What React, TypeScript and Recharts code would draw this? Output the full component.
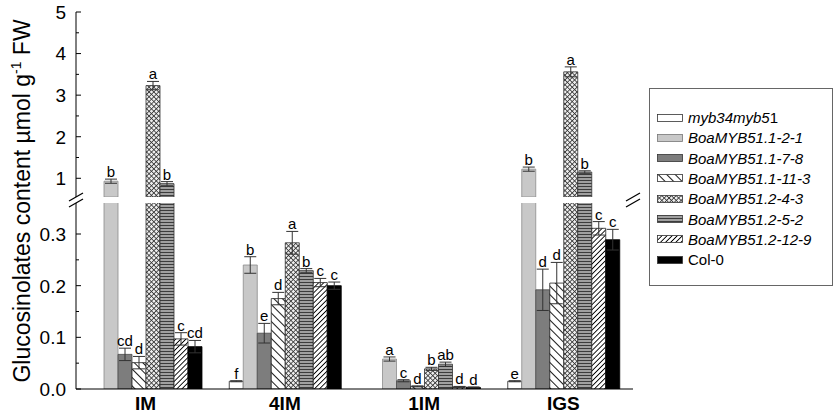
import React from "react";
import { BarChart, Bar, XAxis, YAxis, ErrorBar, LabelList } from "recharts";

const FONT = '"Liberation Sans", Arial, Helvetica, sans-serif';

const categories = ["IM", "4IM", "1IM", "IGS"];

const seriesNames = [
  "myb34myb51",
  "BoaMYB51.1-2-1",
  "BoaMYB51.1-7-8",
  "BoaMYB51.1-11-3",
  "BoaMYB51.2-4-3",
  "BoaMYB51.2-5-2",
  "BoaMYB51.2-12-9",
  "Col-0",
];

// values per category: IM, 4IM, 1IM, IGS
const mybValues = [0, 0.015, 0, 0.015];
const l121Values = [0.93, 0.24, 0.058, 1.22];
const l178Values = [0.067, 0.108, 0.016, 0.192];
const l1113Values = [0.051, 0.175, 0.005, 0.205];
const l243Values = [3.23, 0.283, 0.039, 3.56];
const l252Values = [0.87, 0.229, 0.048, 1.15];
const l2129Values = [0.097, 0.206, 0.004, 0.311];
const colValues = [0.082, 0.2, 0.003, 0.289];

const mybErr = [0, 0.001, 0, 0.001];
const l121Err = [0.05, 0.016, 0.004, 0.05];
const l178Err = [0.012, 0.019, 0.002, 0.04];
const l1113Err = [0.012, 0.012, 0.001, 0.04];
const l243Err = [0.1, 0.022, 0.003, 0.12];
const l252Err = [0.05, 0.004, 0.004, 0.03];
const l2129Err = [0.012, 0.008, 0.001, 0.013];
const colErr = [0.012, 0.007, 0.001, 0.02];

const mybLetters = ["", "f", "", "e"];
const l121Letters = ["b", "b", "a", "b"];
const l178Letters = ["cd", "e", "c", "d"];
const l1113Letters = ["d", "d", "d", "d"];
const l243Letters = ["a", "a", "b", "a"];
const l252Letters = ["b", "b", "ab", "b"];
const l2129Letters = ["c", "c", "d", "c"];
const colLetters = ["cd", "c", "d", "c"];

const upperTicks = [1, 1.5, 2, 2.5, 3, 3.5, 4, 4.5, 5];
const upperMajor = [1, 2, 3, 4, 5];
const lowerTicks = [0, 0.05, 0.1, 0.15, 0.2, 0.25, 0.3];
const lowerMajor = [0, 0.1, 0.2, 0.3];

const seriesValues = [mybValues, l121Values, l178Values, l1113Values, l243Values, l252Values, l2129Values, colValues];
const seriesErrors = [mybErr, l121Err, l178Err, l1113Err, l243Err, l252Err, l2129Err, colErr];
const seriesLetters = [mybLetters, l121Letters, l178Letters, l1113Letters, l243Letters, l252Letters, l2129Letters, colLetters];

const UP_MIN = 0.55;
const UP_MAX = 5;
const LOW_MAX = 0.36;

const fills = ["#ffffff", "#c8c8c8", "#7d7d7d", "url(#pBack)", "url(#pCross)", "url(#pHoriz)", "url(#pDiag)", "#000000"];
const strokes = ["#222", "#8c8c8c", "#4a4a4a", "#222", "#333", "#333", "#222", "#000"];

const upperData = categories.map((cat, i) => {
  const row: any = { cat };
  seriesValues.forEach((vals, s) => {
    const v = vals[i];
    row["v" + s] = v > LOW_MAX ? v : null;
    row["e" + s] = v > LOW_MAX ? seriesErrors[s][i] : null;
    row["k" + s] = "c" + i;
  });
  return row;
});

const lowerData = categories.map((cat, i) => {
  const row: any = { cat };
  seriesValues.forEach((vals, s) => {
    const v = vals[i];
    row["v" + s] = v;
    row["e" + s] = v <= LOW_MAX && v > 0 ? seriesErrors[s][i] : null;
    row["k" + s] = "c" + i;
  });
  return row;
});

const makeTick = (majors: number[], digits: number) => (props: any) => {
  const { x, y, payload } = props;
  const v = payload.value;
  const major = majors.some((m) => Math.abs(m - v) < 1e-9);
  return (
    <g>
      <line x1={x} x2={x + (major ? 5 : 3)} y1={y} y2={y} stroke="#000" strokeWidth={1} />
      {major && (
        <text x={x - 10} y={y} dy="0.36em" textAnchor="end" fontSize={19} fill="#000" fontFamily={FONT}>
          {v.toFixed(digits)}
        </text>
      )}
    </g>
  );
};

const letterLabel = (s: number, base: number, lower: boolean) => (props: any) => {
  const { x, y, width, height, value } = props;
  if (value == null) return null;
  const i = Number(String(value).slice(1));
  const v = seriesValues[s][i];
  if (lower && v > LOW_MAX) return null;
  if (!lower && v <= LOW_MAX) return null;
  const letter = seriesLetters[s][i];
  if (!letter) return null;
  const ppu = v - base > 0 ? Math.abs(height) / (v - base) : 0;
  const errPx = seriesErrors[s][i] * ppu;
  return (
    <text x={x + width / 2} y={y - errPx - 2} textAnchor="middle" fontSize={15} fill="#000" fontFamily={FONT}>
      {letter}
    </text>
  );
};

const renderBars = (base: number, lower: boolean) =>
  seriesNames.map((name, s) => (
    <Bar
      key={name}
      dataKey={"v" + s}
      name={name}
      fill={fills[s]}
      stroke={strokes[s]}
      strokeWidth={0.8}
      isAnimationActive={false}
    >
      <ErrorBar dataKey={"e" + s} width={6} stroke="#333" strokeWidth={1} />
      <LabelList dataKey={"k" + s} content={letterLabel(s, base, lower)} />
    </Bar>
  ));

function Swatch({ s }: { s: number }) {
  return (
    <svg width={27} height={9} style={{ display: "block" }}>
      <rect x={0.5} y={0.5} width={25} height={7} fill={fills[s]} stroke={s === 1 ? "#777" : "#333"} strokeWidth={0.8} />
    </svg>
  );
}

function LegendBox() {
  return (
    <div
      style={{
        position: "absolute",
        left: 649,
        top: 88,
        width: 184,
        height: 198,
        boxSizing: "border-box",
        border: "1px solid #666",
        background: "#fff",
        fontFamily: FONT,
        fontSize: 15,
      }}
    >
      {seriesNames.map((name, s) => (
        <div
          key={name}
          style={{
            position: "absolute",
            left: 7,
            top: 21 + s * 20.3,
            height: 16,
            display: "flex",
            alignItems: "center",
            whiteSpace: "nowrap",
          }}
        >
          <Swatch s={s} />
          <span style={{ marginLeft: 4, lineHeight: "16px" }}>
            {s === 0 ? (
              <>
                <i>myb34myb5</i>1
              </>
            ) : s === 7 ? (
              name
            ) : (
              <i>{name}</i>
            )}
          </span>
        </div>
      ))}
    </div>
  );
}

export default function App() {
  return (
    <div style={{ position: "absolute", left: 0, top: 0, width: 835, height: 416, background: "#fff", fontFamily: FONT }}>
      <div style={{ position: "absolute", left: 0, top: 0 }}>
        <BarChart width={835} height={416} data={lowerData} margin={{ top: 203, right: 202, bottom: 0, left: 0 }} barSize={14} barGap={0}>
          <XAxis
            dataKey="cat"
            height={27}
            interval={0}
            tickLine={false}
            axisLine={{ stroke: "#000" }}
            tick={{ fontSize: 19, fontWeight: "bold", fill: "#000", fontFamily: FONT }}
          />
          <YAxis
            width={76}
            domain={[0, LOW_MAX]}
            allowDataOverflow
            ticks={lowerTicks}
            interval={0}
            tickSize={0}
            tickMargin={0}
            tickLine={false}
            axisLine={{ stroke: "#000" }}
            tick={makeTick(lowerMajor, 1)}
          />
          <YAxis yAxisId="r" orientation="right" width={0} domain={[0, LOW_MAX]} tick={false} tickLine={false} axisLine={{ stroke: "#000" }} />
          {renderBars(0, true)}
        </BarChart>
      </div>
      <div style={{ position: "absolute", left: 0, top: 0 }}>
        <BarChart width={835} height={197} data={upperData} margin={{ top: 12, right: 202, bottom: 0, left: 0 }} barSize={14} barGap={0}>
          <XAxis dataKey="cat" orientation="top" height={0} tick={false} tickLine={false} axisLine={{ stroke: "#000" }} />
          <YAxis
            width={76}
            domain={[UP_MIN, UP_MAX]}
            allowDataOverflow
            ticks={upperTicks}
            interval={0}
            tickSize={0}
            tickMargin={0}
            tickLine={false}
            axisLine={{ stroke: "#000" }}
            tick={makeTick(upperMajor, 0)}
          />
          <YAxis yAxisId="r" orientation="right" width={0} domain={[UP_MIN, UP_MAX]} tick={false} tickLine={false} axisLine={{ stroke: "#000" }} />
          {renderBars(UP_MIN, false)}
        </BarChart>
      </div>
      <svg width={835} height={416} style={{ position: "absolute", left: 0, top: 0, pointerEvents: "none" }}>
        <defs>
          <pattern id="pBack" width="6" height="6" patternUnits="userSpaceOnUse" patternTransform="rotate(-45)">
            <rect width="6" height="6" fill="#fff" />
            <line x1="0" y1="0" x2="0" y2="6" stroke="#000" strokeWidth="1.8" />
          </pattern>
          <pattern id="pDiag" width="3.6" height="3.6" patternUnits="userSpaceOnUse" patternTransform="rotate(45)">
            <rect width="3.6" height="3.6" fill="#fff" />
            <line x1="0" y1="0" x2="0" y2="3.6" stroke="#000" strokeWidth="1.8" />
          </pattern>
          <pattern id="pCross" width="3.4" height="3.4" patternUnits="userSpaceOnUse" patternTransform="rotate(45)">
            <rect width="3.4" height="3.4" fill="#eee" />
            <line x1="0" y1="0" x2="0" y2="3.4" stroke="#333" strokeWidth="1.6" />
            <line x1="0" y1="0" x2="3.4" y2="0" stroke="#333" strokeWidth="1.6" />
          </pattern>
          <pattern id="pHoriz" width="4" height="3" patternUnits="userSpaceOnUse">
            <rect width="4" height="3" fill="#a0a0a0" />
            <line x1="0" y1="0" x2="4" y2="0" stroke="#3c3c3c" strokeWidth="2" />
          </pattern>
        </defs>
        <text
          transform="translate(30,201) rotate(-90)"
          textAnchor="middle"
          fontSize={23}
          fill="#000"
          fontFamily={FONT}
        >
          Glucosinolates content µmol g
          <tspan dy={-9} fontSize={14}>-1</tspan>
          <tspan dy={9}> FW</tspan>
        </text>
        <g stroke="#000" strokeWidth={1.2}>
          <line x1={69} y1={201} x2={83} y2={193} />
          <line x1={69} y1={207} x2={83} y2={199} />
          <line x1={626} y1={201} x2={640} y2={193} />
          <line x1={626} y1={207} x2={640} y2={199} />
        </g>
      </svg>
      <LegendBox />
    </div>
  );
}
